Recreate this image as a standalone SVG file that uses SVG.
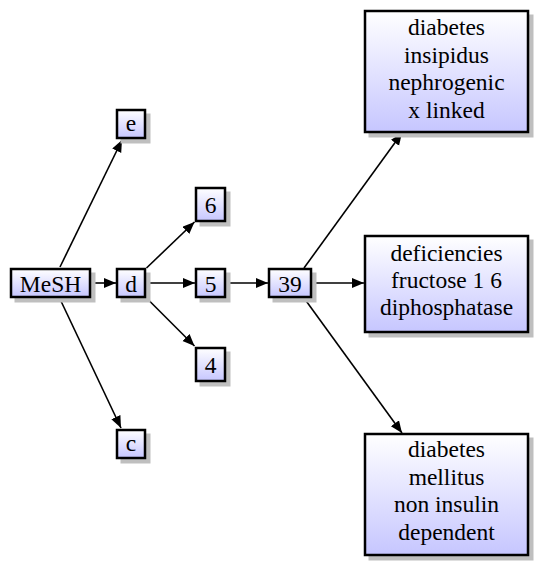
<svg xmlns="http://www.w3.org/2000/svg" width="534" height="561" viewBox="0 0 534 561">
<style>
.box{fill:url(#g);stroke:#000;stroke-width:2.5}
.sh{fill:#bfbfbf}
.t{font-family:"Liberation Serif","Times New Roman",serif;font-size:23.5px;fill:#000;text-anchor:middle}
.e{stroke:#000;stroke-width:1.6;fill:none;marker-end:url(#a)}
</style>
<defs>
<linearGradient id="g" x1="0" y1="0" x2="0" y2="1">
<stop offset="0" stop-color="#ffffff"/>
<stop offset="1" stop-color="#c6c6ff"/>
</linearGradient>
<marker id="a" markerUnits="userSpaceOnUse" markerWidth="14" markerHeight="12" refX="12" refY="5" orient="auto" viewBox="0 0 14 12">
<path d="M0,0 L12,5 L0,10 z" fill="#000"/>
</marker>
</defs>
<g id="connectors">
<line class="e" x1="60" y1="267" x2="122" y2="140"/>
<line class="e" x1="60" y1="299" x2="121" y2="428"/>
<line class="e" x1="91" y1="283" x2="116" y2="283"/>
<line class="e" x1="146.5" y1="268" x2="194.5" y2="222"/>
<line class="e" x1="146" y1="283" x2="195" y2="283"/>
<line class="e" x1="146.5" y1="298" x2="194.5" y2="346"/>
<line class="e" x1="226" y1="283" x2="268" y2="283"/>
<line class="e" x1="304" y1="268" x2="402" y2="133"/>
<line class="e" x1="312" y1="283" x2="364" y2="283"/>
<line class="e" x1="304" y1="298" x2="402" y2="433"/>
</g>
<g id="mesh">
<rect class="sh" x="14.5" y="272.5" width="81" height="30"/>
<rect class="box" x="11" y="269" width="79" height="28"/>
<text class="t" x="50.5" y="291.5">MeSH</text>
</g>
<g id="d">
<rect class="sh" x="120.5" y="272.5" width="30" height="30"/>
<rect class="box" x="117" y="269" width="28" height="28"/>
<text class="t" x="131" y="291.5">d</text>
</g>
<g id="e">
<rect class="sh" x="120.5" y="113.5" width="30" height="30"/>
<rect class="box" x="117" y="110" width="28" height="28"/>
<text class="t" x="131" y="131">e</text>
</g>
<g id="c">
<rect class="sh" x="120.5" y="433.5" width="30" height="30"/>
<rect class="box" x="117" y="430" width="28" height="28"/>
<text class="t" x="131" y="451">c</text>
</g>
<g id="n6">
<rect class="sh" x="199.5" y="191.5" width="31" height="35"/>
<rect class="box" x="196" y="188" width="29" height="33"/>
<text class="t" x="210.5" y="213">6</text>
</g>
<g id="n5">
<rect class="sh" x="199.5" y="272.5" width="31" height="30"/>
<rect class="box" x="196" y="269" width="29" height="28"/>
<text class="t" x="210.5" y="291.5">5</text>
</g>
<g id="n4">
<rect class="sh" x="199.5" y="351.5" width="31" height="35"/>
<rect class="box" x="196" y="348" width="29" height="33"/>
<text class="t" x="210.5" y="373">4</text>
</g>
<g id="n39">
<rect class="sh" x="272.5" y="272.5" width="44" height="30"/>
<rect class="box" x="269" y="269" width="42" height="28"/>
<text class="t" x="290" y="291.5">39</text>
</g>
<g id="dinx">
<rect class="sh" x="368.5" y="14.5" width="165" height="123"/>
<rect class="box" x="365" y="11" width="163" height="121"/>
<text class="t" x="446.5" y="35">diabetes</text>
<text class="t" x="446.5" y="62.5">insipidus</text>
<text class="t" x="446.5" y="90">nephrogenic</text>
<text class="t" x="446.5" y="117.5">x linked</text>
</g>
<g id="dfd">
<rect class="sh" x="368.5" y="239.5" width="165" height="98"/>
<rect class="box" x="365" y="236" width="163" height="96"/>
<text class="t" x="446.5" y="261">deficiencies</text>
<text class="t" x="446.5" y="288">fructose 1 6</text>
<text class="t" x="446.5" y="315">diphosphatase</text>
</g>
<g id="dmnid">
<rect class="sh" x="368.5" y="437.5" width="165" height="123"/>
<rect class="box" x="365" y="434" width="163" height="121"/>
<text class="t" x="446.5" y="457">diabetes</text>
<text class="t" x="446.5" y="484.5">mellitus</text>
<text class="t" x="446.5" y="512">non insulin</text>
<text class="t" x="446.5" y="539.5">dependent</text>
</g>
</svg>
